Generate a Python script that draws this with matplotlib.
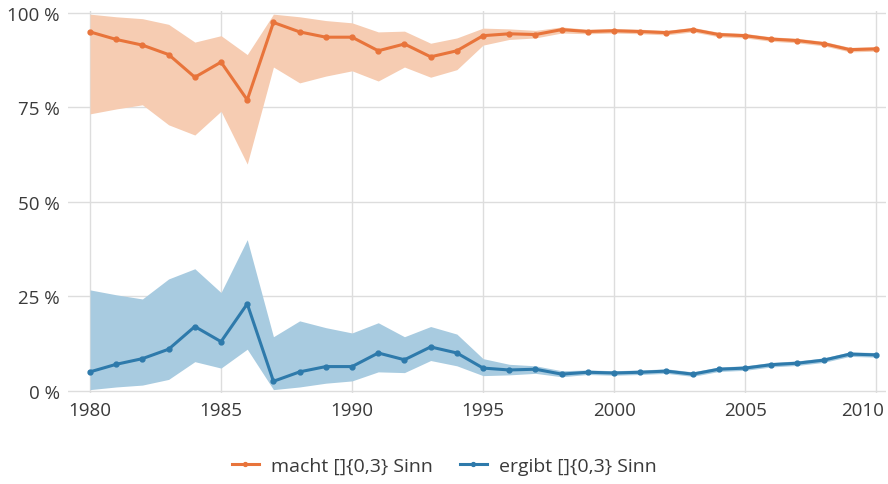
import matplotlib
matplotlib.use("Agg")
import matplotlib.pyplot as plt
import matplotlib.transforms as mtransforms
import numpy as np

plt.rcParams["font.family"] = ["Open Sans", "DejaVu Sans"]

years = np.arange(1980, 2011)

macht = [95.0, 93.0, 91.5, 89.0, 83.0, 87.0, 77.0, 97.5, 95.0, 93.6, 93.6,
         90.0, 91.8, 88.4, 90.0, 94.0, 94.5, 94.3, 95.6, 95.1, 95.3,
         95.1, 94.8, 95.6, 94.3, 94.0, 93.1, 92.7, 91.9, 90.3, 90.5]
macht_hi = [99.7, 99.0, 98.5, 97.0, 92.3, 94.0, 89.0, 99.7, 99.0, 98.0, 97.4,
            95.0, 95.2, 92.0, 93.4, 96.0, 95.8, 95.4, 96.3, 95.7, 95.9,
            95.7, 95.4, 96.2, 94.9, 94.6, 93.7, 93.3, 92.5, 90.9, 91.1]
macht_lo = [73.3, 74.6, 75.7, 70.4, 67.7, 74.0, 60.0, 85.7, 81.5, 83.3, 84.7,
            82.0, 85.7, 83.0, 85.0, 91.5, 93.0, 93.4, 94.7, 94.5, 94.7,
            94.5, 94.2, 95.0, 93.7, 93.4, 92.5, 92.1, 91.3, 89.7, 89.9]

ergibt = [5.0, 7.0, 8.5, 11.0, 17.0, 13.0, 23.0, 2.5, 5.0, 6.4, 6.4,
          10.0, 8.2, 11.6, 10.0, 6.0, 5.5, 5.7, 4.4, 4.9, 4.7,
          4.9, 5.2, 4.4, 5.7, 6.0, 6.9, 7.3, 8.1, 9.7, 9.5]
ergibt_hi = [26.7, 25.4, 24.3, 29.6, 32.3, 26.0, 40.0, 14.3, 18.5, 16.7, 15.3,
             18.0, 14.3, 17.0, 15.0, 8.5, 7.0, 6.6, 5.3, 5.5, 5.3,
             5.5, 5.8, 5.0, 6.3, 6.6, 7.5, 7.9, 8.7, 10.3, 10.1]
ergibt_lo = [0.3, 1.0, 1.5, 3.0, 7.7, 6.0, 11.0, 0.3, 1.0, 2.0, 2.6,
             5.0, 4.8, 8.0, 6.6, 4.0, 4.2, 4.6, 3.7, 4.3, 4.1,
             4.3, 4.6, 3.8, 5.1, 5.4, 6.3, 6.7, 7.5, 9.1, 8.9]

yticks = [0, 25, 50, 75, 100]
ytick_labels = ["0 %", "25 %", "50 %", "75 %", "100 %"]
xticks = [1980, 1985, 1990, 1995, 2000, 2005, 2010]

orange = "#E8743B"
orange_band = "#F6CCB2"
blue = "#2E7AAB"
blue_band = "#A8CBE0"
text_col = "#3a3a3a"

fig = plt.figure(figsize=(8.88, 4.85), dpi=100)
ax = fig.add_axes([0.0766, 0.1876, 0.9212, 0.7874])

ax.fill_between(years, macht_lo, macht_hi, color=orange_band, lw=0, zorder=2)
ax.fill_between(years, ergibt_lo, ergibt_hi, color=blue_band, lw=0, zorder=2)
ax.plot(years, macht, color=orange, lw=2.2, marker="o", ms=3.5,
        label="macht []{0,3} Sinn", zorder=3)
ax.plot(years, ergibt, color=blue, lw=2.2, marker="o", ms=3.5,
        label="ergibt []{0,3} Sinn", zorder=3)

ax.set_xlim(1979.16, 2010.38)
ax.set_ylim(-0.6, 100.5)
ax.set_yticks(yticks)
ax.set_yticklabels(ytick_labels)
ax.set_xticks(xticks)
ax.grid(True, color="#dddddd", lw=1)
ax.set_axisbelow(True)
for s in ax.spines.values():
    s.set_visible(False)
ax.tick_params(length=0, labelsize=13.5, labelcolor=text_col, pad=6)

# keep the last year label inside the figure
last = ax.get_xticklabels()[-1]
last.set_horizontalalignment("right")
last.set_transform(last.get_transform() +
                   mtransforms.ScaledTranslation(6 / 72, 0, fig.dpi_scale_trans))

fig.legend(loc="center", bbox_to_anchor=(0.5, 0.037), ncol=2, frameon=False,
           fontsize=14, labelcolor=text_col, handlelength=1.4, handletextpad=0.6,
           columnspacing=1.4, markerscale=0.8)

fig.savefig("out.png", dpi=100)
